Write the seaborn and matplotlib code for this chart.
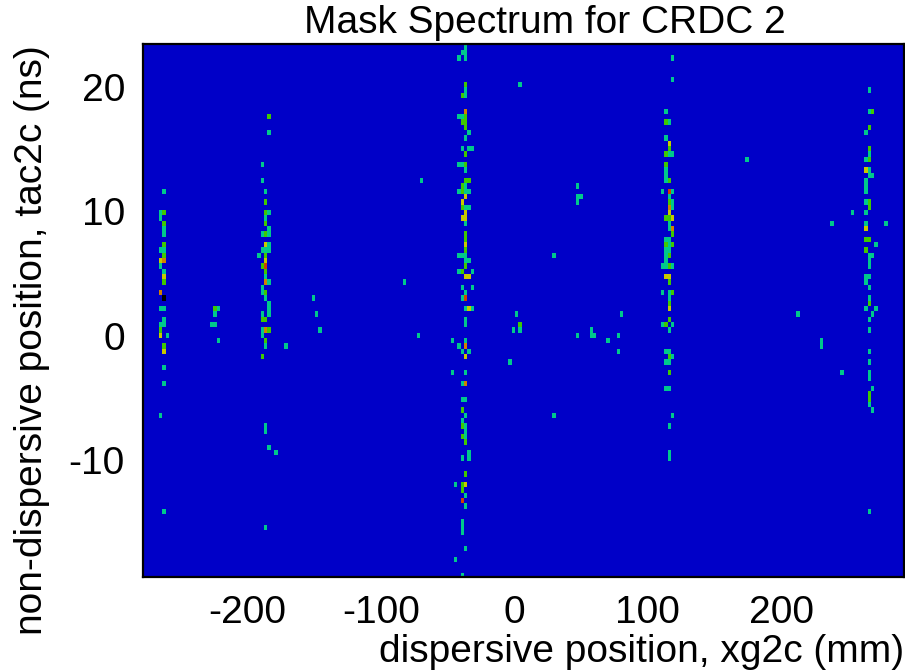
import matplotlib
matplotlib.use("Agg")
import matplotlib.pyplot as plt
from matplotlib.colors import ListedColormap
import numpy as np
import seaborn as sns

# histogram binning of the mask spectrum
n_xbins = 225
n_ybins = 100
xg_min = -279.0       # mm, left edge of bin 0
xg_bin = 2.541
tac_max = 23.4        # ns, top edge of row 0
tac_bin = 0.4284

x_ticks = [-200, -100, 0, 100, 200]
y_ticks = [-10, 0, 10, 20]

# filled bins as (column, row from the top, counts), grouped by mask hole
hole1_bins = [(6, 27, 1), (5, 31, 1), (6, 31, 2), (5, 32, 1), (6, 33, 2), (6, 34, 1), (6, 35, 1),
              (6, 37, 2), (5, 38, 1), (6, 38, 1), (6, 39, 2), (5, 40, 3), (6, 40, 4), (5, 41, 1),
              (6, 42, 1), (6, 43, 3), (6, 44, 2), (5, 46, 4), (6, 47, 6), (5, 49, 1), (6, 49, 1),
              (6, 51, 1), (5, 52, 1), (6, 52, 1), (5, 53, 2), (5, 54, 3), (7, 54, 1), (6, 56, 2),
              (6, 57, 3), (6, 60, 1), (6, 63, 1), (5, 69, 1), (6, 87, 1)]

hole2_bins = [(21, 49, 2), (22, 49, 1), (21, 50, 1), (20, 52, 1), (21, 52, 1), (22, 55, 1),
              (37, 13, 2), (37, 16, 1), (35, 22, 1), (35, 25, 1), (36, 27, 1), (36, 29, 2),
              (36, 31, 2), (37, 31, 1), (36, 32, 1), (36, 33, 2), (37, 34, 1), (35, 35, 1),
              (36, 35, 2), (37, 35, 1), (36, 37, 3), (37, 37, 1), (35, 38, 1), (36, 38, 1),
              (37, 38, 1), (34, 39, 1), (36, 39, 2), (36, 40, 3), (35, 41, 2), (36, 41, 5),
              (36, 42, 2), (36, 43, 1), (36, 44, 4), (37, 44, 1), (35, 45, 1), (35, 46, 1),
              (36, 46, 2), (36, 47, 1), (37, 48, 1), (37, 49, 1), (35, 50, 1), (37, 50, 1),
              (35, 51, 2), (36, 51, 2), (35, 53, 1), (36, 53, 4), (37, 53, 2), (35, 54, 1),
              (36, 55, 2), (36, 56, 1), (35, 58, 2), (36, 71, 1), (36, 72, 1), (37, 75, 1),
              (39, 76, 1), (36, 90, 1)]

hole3_bins = [(95, 0, 1), (94, 1, 1), (95, 1, 1), (93, 2, 1), (95, 2, 1), (95, 7, 2), (95, 8, 1),
              (94, 9, 2), (95, 9, 1), (95, 12, 4), (93, 13, 1), (94, 13, 1), (95, 13, 2),
              (94, 14, 2), (95, 14, 2), (95, 15, 2), (96, 16, 1), (95, 17, 1), (94, 19, 1),
              (96, 19, 1), (97, 19, 1), (95, 20, 2), (93, 22, 1), (94, 22, 1), (95, 22, 2),
              (95, 23, 1), (95, 25, 2), (96, 25, 2), (94, 26, 2), (95, 26, 1), (93, 27, 1),
              (94, 27, 2), (95, 27, 1), (96, 27, 1), (95, 28, 3), (94, 29, 3), (94, 30, 2),
              (95, 30, 1), (96, 30, 1), (95, 31, 3), (94, 32, 3), (95, 32, 3), (95, 33, 1),
              (95, 35, 2), (95, 36, 2), (95, 37, 3), (95, 38, 2), (93, 39, 1), (94, 39, 1),
              (95, 39, 1), (95, 40, 1), (96, 40, 1), (95, 41, 2), (93, 42, 1), (94, 42, 2),
              (97, 42, 1), (95, 43, 3), (96, 43, 3), (94, 45, 1), (97, 45, 1), (95, 46, 1),
              (94, 47, 1), (95, 47, 5), (95, 49, 1), (96, 49, 3), (97, 49, 1), (95, 51, 1),
              (95, 52, 1), (91, 55, 1), (95, 55, 1), (93, 56, 1), (95, 56, 4), (94, 57, 1),
              (96, 57, 1), (95, 58, 3), (91, 61, 1), (95, 61, 1), (94, 63, 1), (95, 63, 4),
              (94, 66, 1), (95, 66, 1), (94, 68, 2), (95, 69, 1), (94, 70, 1), (94, 71, 2),
              (95, 71, 1), (95, 72, 1), (94, 73, 2), (95, 73, 1), (95, 74, 2), (96, 76, 1),
              (94, 77, 1), (96, 77, 1), (95, 80, 2), (92, 82, 1), (94, 82, 2), (95, 82, 3),
              (94, 83, 2), (95, 84, 1), (94, 85, 5), (95, 86, 1), (94, 89, 1), (94, 90, 1),
              (94, 91, 1), (95, 94, 1), (92, 96, 1), (94, 99, 1)]

hole4_bins = [(156, 2, 1), (156, 6, 1), (154, 12, 1), (154, 14, 2), (155, 14, 1), (154, 17, 1),
              (155, 18, 3), (155, 19, 2), (154, 20, 2), (155, 20, 1), (156, 20, 1), (154, 22, 2),
              (154, 23, 1), (154, 24, 1), (154, 25, 1), (155, 25, 2), (153, 27, 1), (155, 27, 5),
              (156, 27, 1), (155, 28, 1), (155, 29, 2), (156, 29, 1), (155, 30, 4), (156, 30, 1),
              (155, 31, 3), (154, 32, 2), (155, 32, 2), (156, 32, 3), (155, 33, 1), (155, 34, 1),
              (156, 34, 4), (156, 35, 2), (154, 36, 1), (155, 36, 1), (154, 37, 2), (155, 37, 1),
              (156, 37, 2), (154, 38, 1), (155, 38, 1), (154, 39, 1), (155, 39, 2), (154, 40, 1),
              (153, 41, 1), (154, 41, 1), (155, 41, 2), (156, 41, 1), (154, 43, 3), (155, 43, 3),
              (155, 44, 2), (153, 46, 1), (155, 46, 1), (156, 46, 2), (155, 47, 1), (155, 48, 2),
              (155, 49, 3), (155, 51, 2), (153, 52, 1), (154, 52, 2), (156, 52, 1), (155, 53, 1),
              (154, 57, 1), (155, 57, 1), (155, 58, 2), (156, 58, 1), (154, 59, 1), (155, 59, 1),
              (155, 61, 2), (154, 64, 1), (155, 64, 1), (156, 69, 1), (155, 71, 1), (155, 76, 1),
              (155, 77, 1)]

hole5_bins = [(214, 8, 1), (214, 12, 1), (215, 12, 2), (214, 15, 2), (213, 16, 1), (214, 19, 2),
              (214, 20, 1), (213, 21, 1), (214, 21, 2), (213, 23, 3), (214, 23, 1), (214, 24, 1),
              (215, 24, 1), (213, 25, 1), (213, 26, 1), (213, 27, 1), (213, 29, 1), (214, 29, 2),
              (214, 30, 2), (213, 31, 1), (213, 33, 1), (213, 34, 3), (213, 36, 2), (214, 36, 2),
              (216, 37, 1), (213, 38, 2), (214, 39, 1), (215, 39, 1), (214, 40, 1), (214, 41, 1),
              (213, 43, 1), (214, 43, 1), (213, 44, 1), (214, 45, 1), (214, 47, 1), (214, 48, 2),
              (213, 49, 1), (216, 49, 1), (215, 50, 1), (214, 51, 1), (214, 53, 1), (214, 57, 1),
              (214, 59, 1), (214, 61, 1), (214, 62, 1), (215, 64, 1), (214, 65, 2), (214, 66, 2),
              (214, 67, 1), (215, 68, 1), (214, 87, 1)]

stray_bins = [(50, 47, 1), (51, 50, 1), (52, 53, 1), (42, 56, 1), (77, 44, 1), (81, 54, 1),
              (82, 25, 1), (110, 50, 1), (111, 7, 1), (111, 52, 2), (109, 53, 1), (111, 53, 1),
              (108, 59, 1), (121, 69, 1), (121, 39, 1), (128, 26, 1), (128, 28, 1), (129, 28, 1),
              (128, 29, 1), (128, 54, 1), (132, 53, 1), (132, 54, 1), (133, 54, 1), (137, 55, 1),
              (140, 54, 1), (140, 57, 1), (141, 50, 1), (178, 21, 1), (193, 50, 1), (200, 55, 1),
              (200, 56, 1), (203, 33, 1), (206, 61, 1), (209, 31, 1), (219, 33, 1)]

level_colors = ["#0000c8", "#00c88c", "#40c800", "#c8c800", "#d08000", "#d04000", "#000000"]


def fill_grid():
    grid = np.zeros((n_ybins, n_xbins))
    for bins in [hole1_bins, hole2_bins, hole3_bins, hole4_bins, hole5_bins, stray_bins]:
        for c, r, n in bins:
            grid[r, c] = n
    return grid


plt.rcParams['font.family'] = ['Liberation Sans', 'DejaVu Sans']
fig = plt.figure(figsize=(9.05, 6.72), dpi=100)
ax = fig.add_axes([143 / 905, 1 - 576.7 / 672, 761 / 905, 532.7 / 672])
sns.heatmap(fill_grid(), cmap=ListedColormap(level_colors), vmin=-0.5, vmax=6.5, cbar=False,
            xticklabels=False, yticklabels=False, ax=ax)
ax.set_facecolor(level_colors[0])
ax.set_xlim(0.28, 224.76)
ax.set_ylim(99.76, -0.125)

ax.set_xticks([(v - xg_min) / xg_bin for v in x_ticks])
ax.set_xticklabels([str(v) for v in x_ticks], fontsize=28)
ax.set_yticks([(tac_max - v) / tac_bin for v in y_ticks])
ax.set_yticklabels([str(v) for v in y_ticks], fontsize=28, rotation=0)
ax.tick_params(axis='x', length=0, pad=13)
ax.tick_params(axis='y', length=0, pad=13)
for spine in ax.spines.values():
    spine.set_visible(True)
    spine.set_color('black')
    spine.set_linewidth(1.6)

ax.set_title('Mask Spectrum for CRDC 2', fontsize=28, x=(544.5 - 143) / 761, pad=8)
ax.set_xlabel('dispersive position, xg2c (mm)', fontsize=28, ha='right')
ax.xaxis.set_label_coords(1.0, -0.108)
ax.set_ylabel('non-dispersive position, tac2c (ns)', fontsize=28, ha='center')
ax.yaxis.set_label_coords(-0.1225, 0.444)

fig.savefig('out.png', dpi=100)
plt.close(fig)
